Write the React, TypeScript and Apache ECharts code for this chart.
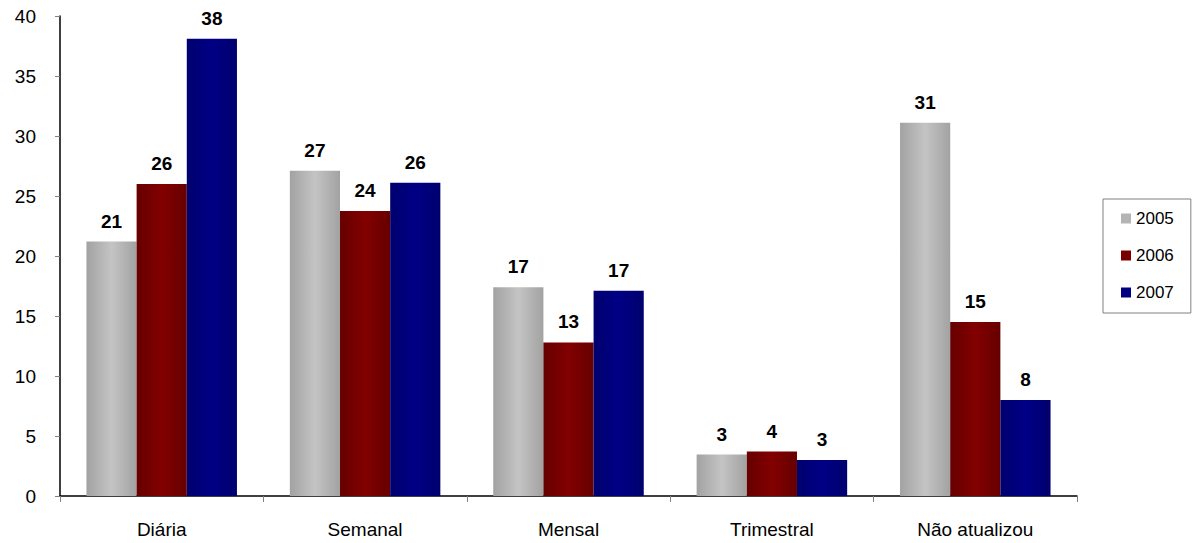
import React, { useEffect, useRef } from "react";
import * as echarts from "echarts";

const categories = ["Diária", "Semanal", "Mensal", "Trimestral", "Não atualizou"];
const years = ["2005", "2006", "2007"];
const values2005 = [21.2, 27.1, 17.4, 3.45, 31.1];
const values2006 = [26.0, 23.75, 12.8, 3.7, 14.5];
const values2007 = [38.1, 26.1, 17.1, 3.0, 8.0];
const yTicks = [0, 5, 10, 15, 20, 25, 30, 35, 40];

const grad = (edge: string, mid: string) =>
  new echarts.graphic.LinearGradient(0, 0, 1, 0, [
    { offset: 0, color: edge },
    { offset: 0.5, color: mid },
    { offset: 1, color: edge },
  ]);

export default function App() {
  const ref = useRef<HTMLDivElement>(null);
  useEffect(() => {
    if (!ref.current) return;
    const chart = echarts.init(ref.current, undefined, { renderer: "svg" });
    const fills = [
      grad("#a2a2a2", "#c4c4c4"),
      grad("#660000", "#820000"),
      grad("#00006e", "#000085"),
    ];
    const legendColors = ["#b4b4b4", "#7a0000", "#000080"];
    const data = [values2005, values2006, values2007];
    chart.setOption({
      animation: false,
      textStyle: { fontFamily: "Liberation Sans, Arial, sans-serif" },
      grid: { left: 60, right: 124, top: 16, bottom: 47, containLabel: false },
      legend: {
        orient: "vertical",
        left: 1103,
        top: 199,
        padding: [11, 17, 12, 18],
        itemGap: 20,
        itemWidth: 10,
        itemHeight: 10,
        borderColor: "#808080",
        borderWidth: 1,
        icon: "rect",
        textStyle: { fontSize: 17, color: "#000" },
        data: years.map((y, i) => ({ name: y, itemStyle: { color: legendColors[i] } })),
      },
      xAxis: {
        type: "category",
        data: categories,
        axisLine: { lineStyle: { color: "#000", width: 1.5 } },
        axisTick: { show: true, length: 6, lineStyle: { color: "#808080" } },
        axisLabel: { fontSize: 19, color: "#000", margin: 24 },
      },
      yAxis: {
        type: "value",
        min: 0,
        max: 40,
        interval: 5,
        axisLine: { show: true, lineStyle: { color: "#000", width: 1.5 } },
        axisTick: { show: true, length: 5, lineStyle: { color: "#808080" } },
        splitLine: { show: false },
        axisLabel: {
          fontSize: 19,
          color: "#000",
          margin: 24,
          formatter: (v: number) => (yTicks.includes(v) ? String(v) : ""),
        },
      },
      series: years.map((y, i) => ({
        name: y,
        type: "bar",
        data: data[i],
        barGap: "0%",
        barCategoryGap: "26%",
        itemStyle: { color: fills[i] },
        label: {
          show: true,
          position: "top",
          distance: 11,
          fontSize: 19,
          fontWeight: "bold",
          color: "#000",
          formatter: (p: any) => String(Math.round(p.value)),
        },
      })),
    });
    return () => chart.dispose();
  }, []);
  return (
    <div
      ref={ref}
      style={{ position: "absolute", left: 0, top: 0, width: 1201, height: 543 }}
    />
  );
}
